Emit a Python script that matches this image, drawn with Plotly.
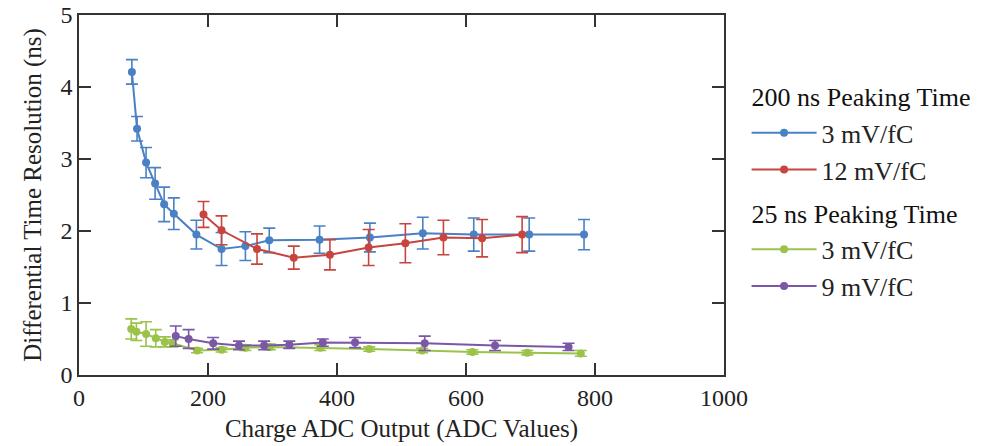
import plotly.graph_objects as go

# ---- data ----
blue_x = [82, 90, 104, 118, 132, 147, 182, 221, 258, 295, 373, 451, 533, 612, 698, 783]
blue_y = [4.21, 3.42, 2.95, 2.66, 2.37, 2.24, 1.95, 1.75, 1.79, 1.87, 1.88, 1.91, 1.97, 1.95, 1.95, 1.95]
blue_err = [0.17, 0.17, 0.21, 0.22, 0.24, 0.22, 0.20, 0.23, 0.20, 0.17, 0.19, 0.20, 0.22, 0.23, 0.23, 0.21]

red_x = [193, 221, 276, 333, 389, 449, 506, 565, 625, 687]
red_y = [2.23, 2.01, 1.75, 1.63, 1.67, 1.77, 1.83, 1.91, 1.90, 1.95]
red_err = [0.18, 0.20, 0.21, 0.16, 0.21, 0.25, 0.27, 0.24, 0.26, 0.25]

green_x = [81, 89, 104, 119, 133, 145, 183, 221, 258, 296, 374, 450, 532, 610, 695, 778]
green_y = [0.64, 0.60, 0.57, 0.51, 0.46, 0.44, 0.34, 0.35, 0.38, 0.39, 0.38, 0.36, 0.34, 0.32, 0.31, 0.30]
green_err = [0.14, 0.12, 0.17, 0.12, 0.07, 0.05, 0.03, 0.03, 0.04, 0.04, 0.04, 0.03, 0.03, 0.03, 0.03, 0.04]

purple_x = [150, 170, 208, 248, 287, 326, 378, 428, 536, 645, 759]
purple_y = [0.54, 0.50, 0.44, 0.41, 0.41, 0.42, 0.45, 0.45, 0.44, 0.41, 0.39]
purple_err = [0.14, 0.13, 0.08, 0.06, 0.06, 0.05, 0.05, 0.07, 0.10, 0.07, 0.05]

x_ticks = [0, 200, 400, 600, 800, 1000]
y_ticks = [0, 1, 2, 3, 4, 5]

series = [
    (blue_x, blue_y, blue_err, "#4a80c4", "3 mV/fC", "g200", "200 ns Peaking Time"),
    (red_x, red_y, red_err, "#c8453f", "12 mV/fC", "g200", "200 ns Peaking Time"),
    (green_x, green_y, green_err, "#9bc34a", "3 mV/fC", "g25", "25 ns Peaking Time"),
    (purple_x, purple_y, purple_err, "#7b58a5", "9 mV/fC", "g25", "25 ns Peaking Time"),
]

FONT = "Liberation Serif"
fig = go.Figure()
for xs, ys, es, col, name, grp, gtitle in series:
    fig.add_trace(go.Scatter(
        x=xs, y=ys, mode="lines+markers", name=name,
        legendgroup=grp, legendgrouptitle=dict(text=gtitle, font=dict(size=26, family=FONT, color="#111")),
        line=dict(color=col, width=2),
        marker=dict(color=col, size=8),
        error_y=dict(type="data", array=es, visible=True, color=col, thickness=1.6, width=6),
    ))

axis_common = dict(
    showgrid=False, zeroline=False, showline=True, linecolor="#333", linewidth=1.5,
    mirror="ticks", ticks="inside", ticklen=12, tickwidth=1.5, tickcolor="#333",
    tickfont=dict(family=FONT, size=24, color="#222"), automargin=False,
)
fig.update_xaxes(range=[0, 1000], tickvals=x_ticks, ticktext=[str(v) for v in x_ticks],
                 title=dict(text="Charge ADC Output (ADC Values)", font=dict(family=FONT, size=25, color="#222"), standoff=10),
                 **axis_common)
fig.update_yaxes(range=[0, 5], tickvals=y_ticks, ticktext=[str(v) for v in y_ticks],
                 title=dict(text="Differential Time Resolution (ns)", font=dict(family=FONT, size=25, color="#222"), standoff=12),
                 **axis_common)

fig.update_layout(
    width=991, height=446,
    margin=dict(l=79, r=267, t=15, b=71, autoexpand=False),
    paper_bgcolor="white", plot_bgcolor="white",
    font=dict(family=FONT, size=24, color="#222"),
    legend=dict(x=1.035, y=0.84, xanchor="left", yanchor="top",
                traceorder="grouped", tracegroupgap=6,
                font=dict(family=FONT, size=26, color="#222"),
                bgcolor="rgba(0,0,0,0)", itemwidth=65),
    showlegend=True,
)

fig.write_html("out.html")
